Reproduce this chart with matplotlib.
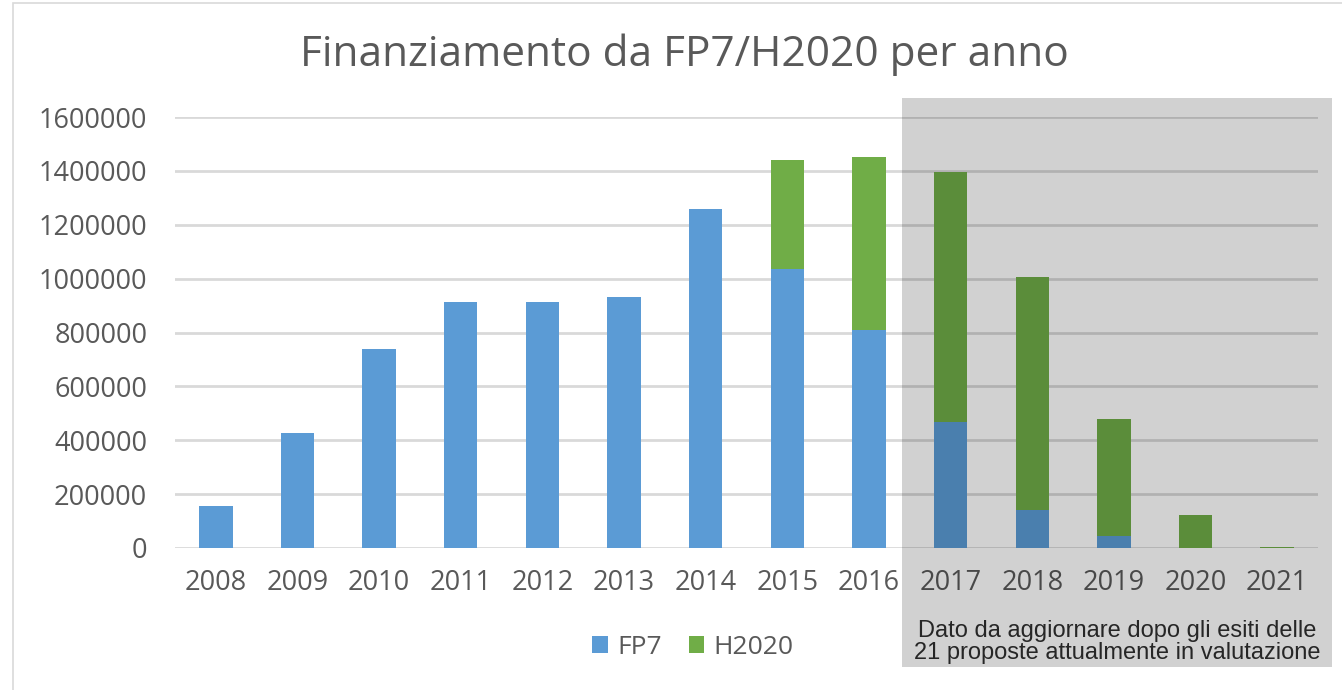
import numpy as np
import matplotlib.pyplot as plt
from matplotlib.patches import Rectangle

# values
years = ['2008', '2009', '2010', '2011', '2012', '2013', '2014',
         '2015', '2016', '2017', '2018', '2019', '2020', '2021']
fp7 = [156000, 427000, 739000, 913000, 912000, 932000, 1258000,
       1036000, 809000, 469000, 141000, 44000, 0, 0]
h2020 = [0, 0, 0, 0, 0, 0, 0,
         404000, 643000, 928000, 866000, 434000, 122000, 4000]
yticks = [0, 200000, 400000, 600000, 800000, 1000000, 1200000, 1400000, 1600000]

W, H = 1342, 690
fig = plt.figure(figsize=(W / 100, H / 100), dpi=100)
plt.rcParams['font.family'] = ['Open Sans', 'DejaVu Sans']

ax = fig.add_axes([175 / W, 1 - 548 / H, (1318 - 175) / W, (548 - 117) / H])
x = np.arange(len(years))
ax.bar(x, fp7, width=0.41, color='#5B9BD5', label='FP7', zorder=3)
ax.bar(x, h2020, width=0.41, bottom=fp7, color='#70AD47', label='H2020', zorder=3)

ax.set_xlim(-0.5, len(years) - 0.5)
ax.set_ylim(0, 1600000)
ax.set_yticks(yticks)
ax.set_yticklabels([str(v) for v in yticks])
ax.set_xticks(x)
ax.set_xticklabels(years)
ax.tick_params(axis='both', length=0, labelsize=19.5, labelcolor='#595959')
ax.tick_params(axis='x', pad=15)
ax.tick_params(axis='y', pad=20)
ax.grid(axis='y', color='#D9D9D9', linewidth=2, zorder=0)
for s in ax.spines.values():
    s.set_visible(False)

fig.text(684 / W, 1 - 55 / H, 'Finanziamento da FP7/H2020 per anno',
         ha='center', va='center', fontsize=30.5, color='#595959')

fig.legend(loc='center', bbox_to_anchor=(693 / W, 1 - 647 / H), ncol=2,
           frameon=False, fontsize=19, handlelength=0.6, handleheight=0.6,
           handletextpad=0.35, columnspacing=1.0, labelcolor='#595959')

# outer chart border
fig.patches.append(Rectangle((13 / W, -0.1), 1.2, 1 - 3 / H + 0.1,
                             transform=fig.transFigure, fill=False,
                             edgecolor='#D9D9D9', linewidth=1.2))

# shaded box over the provisional years
fig.patches.append(Rectangle((902 / W, 1 - 667 / H), (1332 - 902) / W, (667 - 98) / H,
                             transform=fig.transFigure, facecolor='black',
                             alpha=0.18, edgecolor='none', zorder=10))
fig.text(1117 / W, 1 - 642 / H,
         'Dato da aggiornare dopo gli esiti delle\n21 proposte attualmente in valutazione',
         ha='center', va='center', fontsize=17, color='#262626',
         family=['Liberation Sans', 'DejaVu Sans'], linespacing=0.98, zorder=11)

fig.savefig('out.png', dpi=100)
